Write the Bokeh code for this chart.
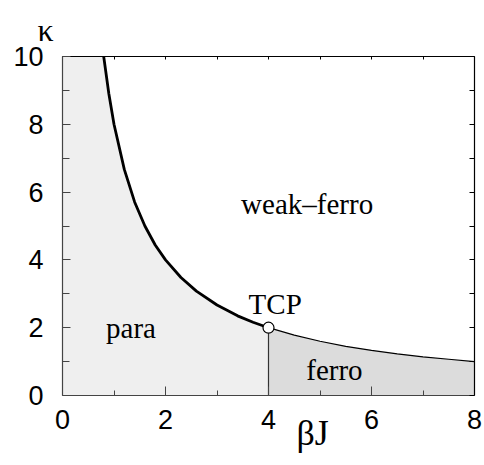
from bokeh.plotting import figure
from bokeh.models import LinearAxis, FixedTicker, Range1d, Label, Title
from bokeh.embed import file_html
from bokeh.resources import INLINE

# --- data ---
x_major = [0, 2, 4, 6, 8]
x_minor = [1, 3, 5, 7]
y_major = [0, 2, 4, 6, 8, 10]
y_minor = [1, 3, 5, 7, 9]

# first-order (thick) boundary: para / weak-ferro
bj_first = [0.8, 0.9, 1.0, 1.2, 1.4, 1.6, 1.8, 2.0, 2.3, 2.6, 3.0, 3.4, 3.7, 4.0]
kappa_first = [10.0, 8.9, 8.0, 6.67, 5.71, 5.0, 4.44, 4.0, 3.48, 3.08, 2.67, 2.35, 2.16, 2.0]
# thin boundary: ferro / weak-ferro
bj_second = [4.0, 4.5, 5.0, 5.5, 6.0, 6.5, 7.0, 7.5, 8.0]
kappa_second = [2.0, 1.78, 1.6, 1.45, 1.33, 1.23, 1.14, 1.07, 1.0]
# tricritical point
tcp_bj = [4.0]
tcp_kappa = [2.0]

x_min, x_max = 0, 8
y_min, y_max = 0, 10

para_x = [x_min] + bj_first
para_top = [y_max] + kappa_first

serif = "Liberation Serif"
tick_font = "Liberation Sans"

p = figure(width=484, height=465, x_range=Range1d(x_min, x_max), y_range=Range1d(y_min, y_max),
           output_backend="svg", toolbar_location=None,
           min_border_left=62, min_border_right=10, min_border_top=56, min_border_bottom=70,
           background_fill_color="white", border_fill_color="white")
p.outline_line_color = None
p.xgrid.visible = False
p.ygrid.visible = False

# regions
p.varea(x=para_x, y1=[0] * len(para_x), y2=para_top, fill_color="#efefef")
p.varea(x=bj_second, y1=[0] * len(bj_second), y2=kappa_second, fill_color="#dcdcdc")

# vertical line below TCP
p.segment(x0=tcp_bj, y0=[y_min], x1=tcp_bj, y1=tcp_kappa, line_color="#333333", line_width=1.2)
# boundaries
p.line(bj_first, kappa_first, line_color="black", line_width=2.8)
p.line(bj_second, kappa_second, line_color="black", line_width=1.2)
# TCP
p.scatter(tcp_bj, tcp_kappa, size=11, marker="circle", fill_color="white", line_color="black", line_width=1.2)


def style(ax, major, minor, tin, tmin, color, labels=True):
    ax.ticker = FixedTicker(ticks=major, minor_ticks=minor)
    ax.major_tick_in = tin
    ax.major_tick_out = 0
    ax.minor_tick_in = tmin
    ax.minor_tick_out = 0
    ax.axis_line_color = color
    ax.axis_line_width = 1.2
    ax.major_tick_line_color = color
    ax.minor_tick_line_color = color
    if labels:
        ax.major_label_text_font = tick_font
        ax.major_label_text_font_size = "27px"
        ax.major_label_text_color = "black"
    else:
        ax.major_label_text_font_size = "0px"
        ax.major_label_text_color = None
        ax.major_label_standoff = 0

style(p.xaxis[0], x_major, x_minor, 9, 5, "#444444")
p.xaxis[0].major_label_standoff = 14
style(p.yaxis[0], y_major, y_minor, 8, 7, "#444444")
p.yaxis[0].major_label_standoff = 19

top = LinearAxis()
style(top, x_major, x_minor, 3, 3, "black", labels=False)
p.add_layout(top, "above")
right = LinearAxis()
style(right, y_major, y_minor, 5, 5, "black", labels=False)
p.add_layout(right, "right")

def lab(x, y, t, size="29px", align="center", font=serif):
    p.add_layout(Label(x=x, y=y, text=t, text_font=font, text_font_size=size,
                       text_align=align, text_baseline="alphabetic", text_color="black"))

lab(1.33, 2.00, "para")
lab(4.75, 5.66, "weak\u2013ferro")
lab(4.13, 2.71, "TCP")
lab(5.28, 0.76, "ferro")

# axis names placed as side titles
kappa_title = Title(text="\u03ba", text_font=serif, text_font_size="32px", text_font_style="normal",
                    align="left", offset=-25, standoff=18, vertical_align="bottom", text_color="black")
p.add_layout(kappa_title, "above")
bj_title = Title(text="\u03b2J", text_font=serif, text_font_size="36px", text_font_style="normal",
                 align="left", offset=234, standoff=-38, vertical_align="top", text_color="black")
p.add_layout(bj_title, "below")

open("out.html", "w").write(file_html(p, INLINE))
